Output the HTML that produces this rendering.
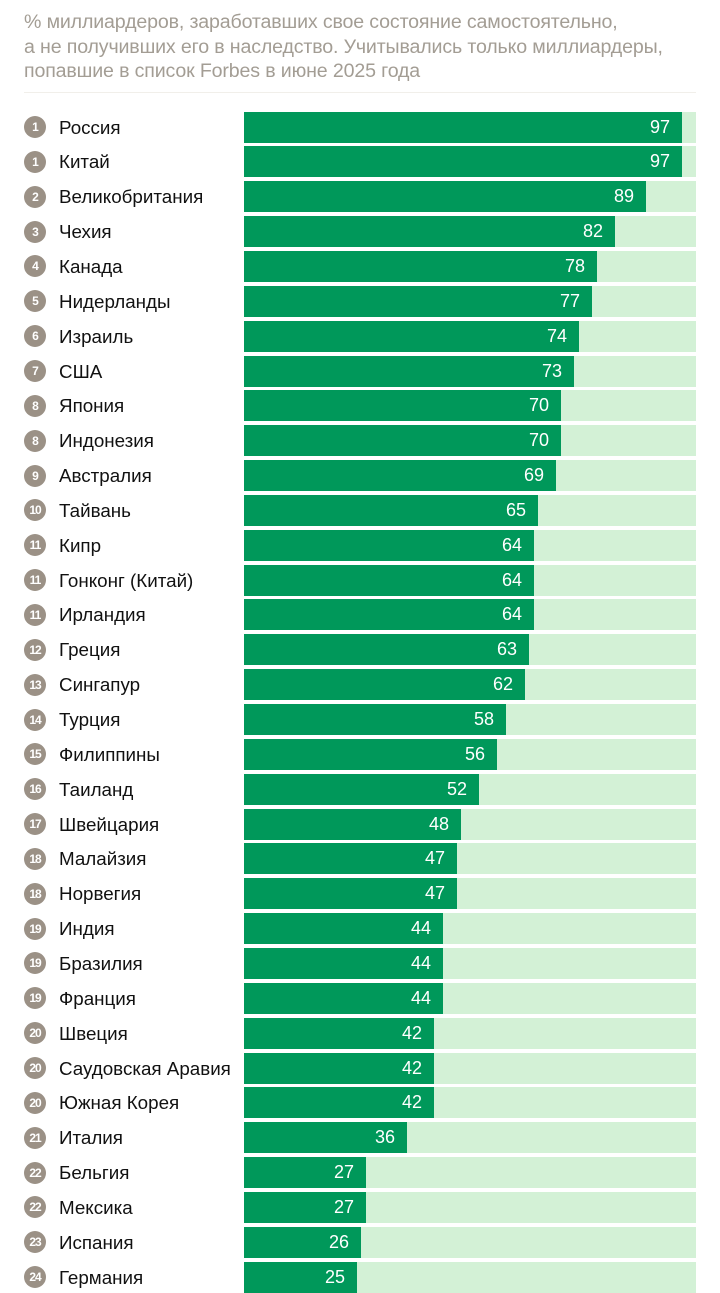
<!DOCTYPE html>
<html><head><meta charset="utf-8"><style>
body{margin:0;width:720px;height:1280px;overflow:hidden;background:#fff;position:relative;font-family:"Liberation Sans","DejaVu Sans",sans-serif}
.t{position:absolute;left:24px;top:10px;color:#a39d94;font-size:19.6px;line-height:24.5px;letter-spacing:-0.15px;white-space:nowrap}
.sep{position:absolute;left:24px;width:672px;top:92px;height:1px;background:#f1efea}
.r{position:absolute;left:0;width:720px;height:31px}
.b{position:absolute;left:24px;top:4.5px;width:22px;height:22px;border-radius:50%;background:#9b9186;color:#fff;font-size:12px;font-weight:bold;line-height:22px;text-align:center;letter-spacing:-1px}
.n{position:absolute;left:59px;top:0;line-height:31px;font-size:18.8px;color:#111;white-space:nowrap}
.bg{position:absolute;left:244px;top:0;width:452px;height:31px;background:#d3f1d6}
.fg{position:absolute;left:244px;top:0;height:31px;background:#00985a;color:#fff;font-size:18px;line-height:31px;text-align:right;box-sizing:border-box;padding-right:12px}
</style></head><body>
<div class="t">% миллиардеров, заработавших свое состояние самостоятельно,<br>а не получивших его в наследство. Учитывались только миллиардеры,<br>попавшие в список Forbes в июне 2025 года</div>
<div class="sep"></div>
<div class="r" style="top:111.5px"><div class="b">1</div><div class="n">Россия</div><div class="bg"></div><div class="fg" style="width:438px">97</div></div>
<div class="r" style="top:146.4px"><div class="b">1</div><div class="n">Китай</div><div class="bg"></div><div class="fg" style="width:438px">97</div></div>
<div class="r" style="top:181.2px"><div class="b">2</div><div class="n">Великобритания</div><div class="bg"></div><div class="fg" style="width:402px">89</div></div>
<div class="r" style="top:216.1px"><div class="b">3</div><div class="n">Чехия</div><div class="bg"></div><div class="fg" style="width:371px">82</div></div>
<div class="r" style="top:250.9px"><div class="b">4</div><div class="n">Канада</div><div class="bg"></div><div class="fg" style="width:353px">78</div></div>
<div class="r" style="top:285.8px"><div class="b">5</div><div class="n">Нидерланды</div><div class="bg"></div><div class="fg" style="width:348px">77</div></div>
<div class="r" style="top:320.6px"><div class="b">6</div><div class="n">Израиль</div><div class="bg"></div><div class="fg" style="width:335px">74</div></div>
<div class="r" style="top:355.5px"><div class="b">7</div><div class="n">США</div><div class="bg"></div><div class="fg" style="width:330px">73</div></div>
<div class="r" style="top:390.3px"><div class="b">8</div><div class="n">Япония</div><div class="bg"></div><div class="fg" style="width:317px">70</div></div>
<div class="r" style="top:425.2px"><div class="b">8</div><div class="n">Индонезия</div><div class="bg"></div><div class="fg" style="width:317px">70</div></div>
<div class="r" style="top:460.0px"><div class="b">9</div><div class="n">Австралия</div><div class="bg"></div><div class="fg" style="width:312px">69</div></div>
<div class="r" style="top:494.9px"><div class="b">10</div><div class="n">Тайвань</div><div class="bg"></div><div class="fg" style="width:294px">65</div></div>
<div class="r" style="top:529.7px"><div class="b">11</div><div class="n">Кипр</div><div class="bg"></div><div class="fg" style="width:290px">64</div></div>
<div class="r" style="top:564.6px"><div class="b">11</div><div class="n">Гонконг (Китай)</div><div class="bg"></div><div class="fg" style="width:290px">64</div></div>
<div class="r" style="top:599.4px"><div class="b">11</div><div class="n">Ирландия</div><div class="bg"></div><div class="fg" style="width:290px">64</div></div>
<div class="r" style="top:634.3px"><div class="b">12</div><div class="n">Греция</div><div class="bg"></div><div class="fg" style="width:285px">63</div></div>
<div class="r" style="top:669.1px"><div class="b">13</div><div class="n">Сингапур</div><div class="bg"></div><div class="fg" style="width:281px">62</div></div>
<div class="r" style="top:704.0px"><div class="b">14</div><div class="n">Турция</div><div class="bg"></div><div class="fg" style="width:262px">58</div></div>
<div class="r" style="top:738.8px"><div class="b">15</div><div class="n">Филиппины</div><div class="bg"></div><div class="fg" style="width:253px">56</div></div>
<div class="r" style="top:773.7px"><div class="b">16</div><div class="n">Таиланд</div><div class="bg"></div><div class="fg" style="width:235px">52</div></div>
<div class="r" style="top:808.5px"><div class="b">17</div><div class="n">Швейцария</div><div class="bg"></div><div class="fg" style="width:217px">48</div></div>
<div class="r" style="top:843.4px"><div class="b">18</div><div class="n">Малайзия</div><div class="bg"></div><div class="fg" style="width:213px">47</div></div>
<div class="r" style="top:878.2px"><div class="b">18</div><div class="n">Норвегия</div><div class="bg"></div><div class="fg" style="width:213px">47</div></div>
<div class="r" style="top:913.1px"><div class="b">19</div><div class="n">Индия</div><div class="bg"></div><div class="fg" style="width:199px">44</div></div>
<div class="r" style="top:947.9px"><div class="b">19</div><div class="n">Бразилия</div><div class="bg"></div><div class="fg" style="width:199px">44</div></div>
<div class="r" style="top:982.8px"><div class="b">19</div><div class="n">Франция</div><div class="bg"></div><div class="fg" style="width:199px">44</div></div>
<div class="r" style="top:1017.6px"><div class="b">20</div><div class="n">Швеция</div><div class="bg"></div><div class="fg" style="width:190px">42</div></div>
<div class="r" style="top:1052.5px"><div class="b">20</div><div class="n">Саудовская Аравия</div><div class="bg"></div><div class="fg" style="width:190px">42</div></div>
<div class="r" style="top:1087.3px"><div class="b">20</div><div class="n">Южная Корея</div><div class="bg"></div><div class="fg" style="width:190px">42</div></div>
<div class="r" style="top:1122.2px"><div class="b">21</div><div class="n">Италия</div><div class="bg"></div><div class="fg" style="width:163px">36</div></div>
<div class="r" style="top:1157.0px"><div class="b">22</div><div class="n">Бельгия</div><div class="bg"></div><div class="fg" style="width:122px">27</div></div>
<div class="r" style="top:1191.9px"><div class="b">22</div><div class="n">Мексика</div><div class="bg"></div><div class="fg" style="width:122px">27</div></div>
<div class="r" style="top:1226.7px"><div class="b">23</div><div class="n">Испания</div><div class="bg"></div><div class="fg" style="width:117px">26</div></div>
<div class="r" style="top:1261.6px"><div class="b">24</div><div class="n">Германия</div><div class="bg"></div><div class="fg" style="width:113px">25</div></div>
</body></html>
